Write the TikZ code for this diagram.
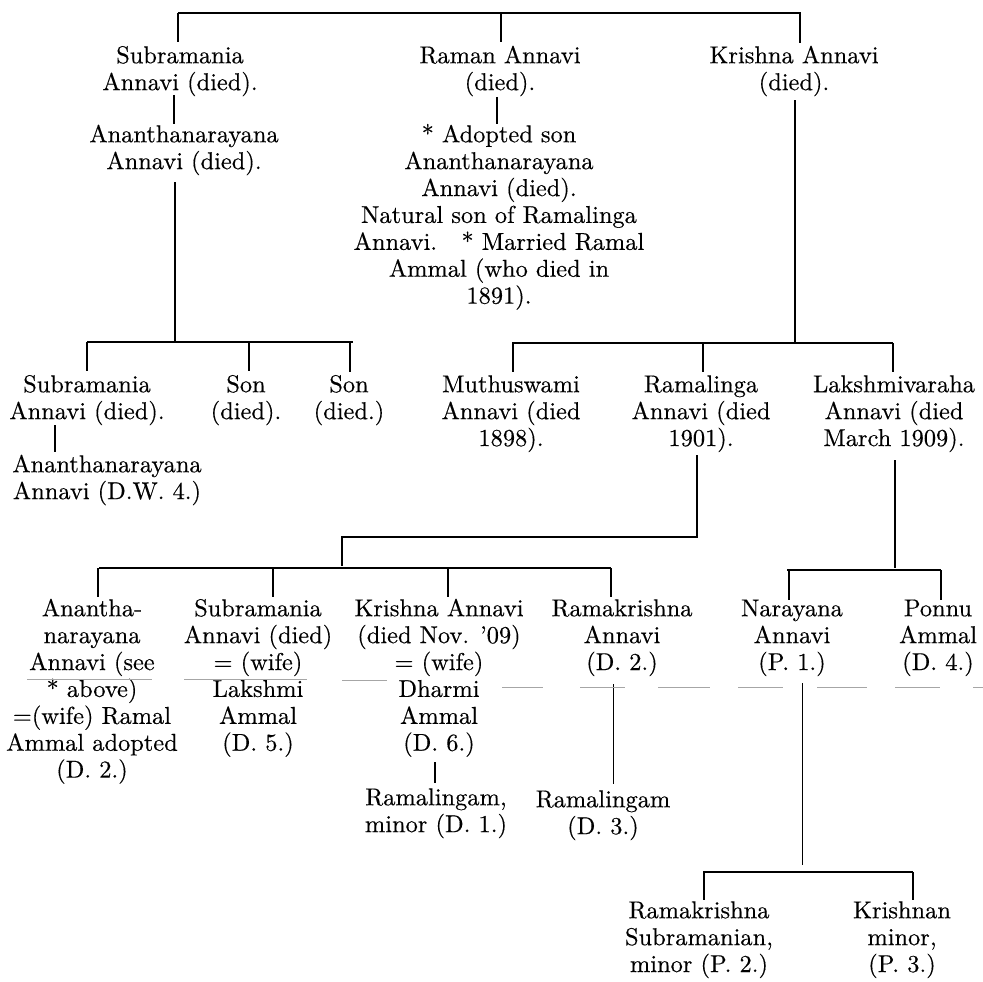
\documentclass[tikz,border=0pt]{standalone}
\usepackage{fontspec}
\setmainfont{lmroman10-regular.otf}[FakeBold=0.35]
\begin{document}
\begin{tikzpicture}[x=1pt,y=-1pt,
  txt/.style={align=center, inner sep=0pt, anchor=north, font=\fontsize{24.4}{26.9}\selectfont},
  ln/.style={line width=1.1pt, black},
  faint/.style={line width=0.9pt, black!35}]
\useasboundingbox (0,0) rectangle (983,982);
% ---- text blocks (y = first baseline - 18.8)
\node[txt] (A) at (180,44.2) {\strut Subramania\\Annavi (died).};
\node[txt] (B) at (184,123.2) {\strut Ananthanarayana\\Annavi (died).};
\node[txt] (G) at (500,44.2) {\strut Raman Annavi\\(died).};
\node[txt] (H) at (499,123.2) {\strut * Adopted son\\Ananthanarayana\\Annavi (died).\\Natural son of Ramalinga\\Annavi.\quad * Married Ramal\\Ammal (who died in\\1891).};
\node[txt] (I) at (794,44.2) {\strut Krishna Annavi\\(died).};
\node[txt] (C) at (87,373.2) {\strut Subramania\\Annavi (died).};
\node[txt] (D) at (107,453.2) {\strut Ananthanarayana\\Annavi (D.W. 4.)};
\node[txt] (E) at (246,373.2) {\strut Son\\(died).};
\node[txt] (F) at (349,373.2) {\strut Son\\(died.)};
\node[txt] (J) at (511,373.2) {\strut Muthuswami\\Annavi (died\\1898).};
\node[txt] (K) at (701,373.2) {\strut Ramalinga\\Annavi (died\\1901).};
\node[txt] (L) at (894,373.2) {\strut Lakshmivaraha\\Annavi (died\\March 1909).};
\node[txt] (M) at (92,597.2) {\strut Anantha-\\narayana\\Annavi (see\\* above)\\=(wife) Ramal\\Ammal adopted\\(D. 2.)};
\node[txt] (N) at (258,597.2) {\strut Subramania\\Annavi (died)\\= (wife)\\Lakshmi\\Ammal\\(D. 5.)};
\node[txt] (O) at (439,597.2) {\strut Krishna Annavi\\(died Nov. '09)\\= (wife)\\Dharmi\\Ammal\\(D. 6.)};
\node[txt] (P) at (436,786.2) {\strut Ramalingam,\\minor (D. 1.)};
\node[txt] (Q) at (622,597.2) {\strut Ramakrishna\\Annavi\\(D. 2.)};
\node[txt] (R) at (603,788.2) {\strut Ramalingam\\(D. 3.)};
\node[txt] (S) at (792,597.2) {\strut Narayana\\Annavi\\(P. 1.)};
\node[txt] (T) at (938,597.2) {\strut Ponnu\\Ammal\\(D. 4.)};
\node[txt] (U) at (699,899.2) {\strut Ramakrishna\\Subramanian,\\minor (P. 2.)};
\node[txt] (V) at (902,899.2) {\strut Krishnan\\minor,\\(P. 3.)};
% ---- connectors
% generation 1
\coordinate (t0) at (178,13); \coordinate (t1) at (801,13);
\draw[ln] (t0) -- (t1);
\draw[ln] (t0) -- (178,42) coordinate (tA);
\draw[ln] (501,13) coordinate (tg) -- (501,42) coordinate (tG);
\draw[ln] (800,13) coordinate (ti) -- (800,43) coordinate (tI);
% A -> B
\draw[ln] (174,95) coordinate (a1) -- (174,124) coordinate (b1);
% G -> H
\draw[ln] (497,97) coordinate (g1) -- (497,124) coordinate (h1);
% B -> children
\draw[ln] (175,182) coordinate (b2) -- (175,342) coordinate (b3);
\draw[ln] (87,342) coordinate (c0) -- (353,342) coordinate (f0);
\draw[ln] (c0) -- (87,371) coordinate (cC);
\draw[ln] (249,342) coordinate (e0) -- (249,371) coordinate (cE);
\draw[ln] (350,342) coordinate (f1) -- (350,372) coordinate (cF);
% C -> D
\draw[ln] (55,425) coordinate (c1) -- (55,452) coordinate (d1);
% I -> children
\draw[ln] (795,100) coordinate (i1) -- (795,343) coordinate (i2);
\draw[ln] (512,343) coordinate (j0) -- (893,343) coordinate (l0);
\draw[ln] (513,343) -- (513,372) coordinate (cJ);
\draw[ln] (703,343) coordinate (k0) -- (703,372) coordinate (cK);
\draw[ln] (l0) -- (893,372) coordinate (cL);
% K -> children
\draw[ln] (697,455) coordinate (k1) -- (697,537) coordinate (k2) -- (342,537) coordinate (k3) -- (342,566) coordinate (k4);
\draw[ln] (99,568) coordinate (m0) -- (611,568) coordinate (q0);
\draw[ln] (98,568) -- (98,597) coordinate (cM);
\draw[ln] (273,568) coordinate (n0) -- (273,597) coordinate (cN);
\draw[ln] (448,568) coordinate (o0) -- (448,597) coordinate (cO);
\draw[ln] (q0) -- (611,597) coordinate (cQ);
% L -> children
\draw[ln] (895,460) coordinate (l1) -- (895,568) coordinate (l2);
\draw[ln] (787,570) coordinate (s0) -- (941,570) coordinate (t0b);
\draw[ln] (789,570) -- (789,600) coordinate (cS);
\draw[ln] (t0b) -- (941,600) coordinate (cT);
% O -> P, Q -> R
\draw[ln] (435,762) coordinate (o1) -- (435,783) coordinate (p1);
\draw[line width=0.9pt] (613,684) coordinate (q1) -- (613,784) coordinate (r1);
% S -> children
\draw[line width=0.9pt] (802,683) coordinate (s1) -- (802,865) coordinate (s2);
\draw[ln] (703,872) coordinate (u0) -- (913,872) coordinate (v0);
\draw[ln] (704,872) -- (704,900) coordinate (cU);
\draw[ln] (v0) -- (913,900) coordinate (cV);
% ---- faint scan marks
\draw[faint] (27,679) -- (152,679);
\draw[faint] (184,679) -- (307,679);
\draw[faint] (342,680) -- (387,680);
\draw[faint] (502,687) -- (543,687);
\draw[faint] (580,687) -- (625,687);
\draw[faint] (658,687) -- (710,687);
\draw[faint] (738,687) -- (783,687);
\draw[faint] (817,687) -- (867,687);
\draw[faint] (895,687) -- (940,687);
\draw[faint] (973,687) -- (983,687);
\end{tikzpicture}
\end{document}
